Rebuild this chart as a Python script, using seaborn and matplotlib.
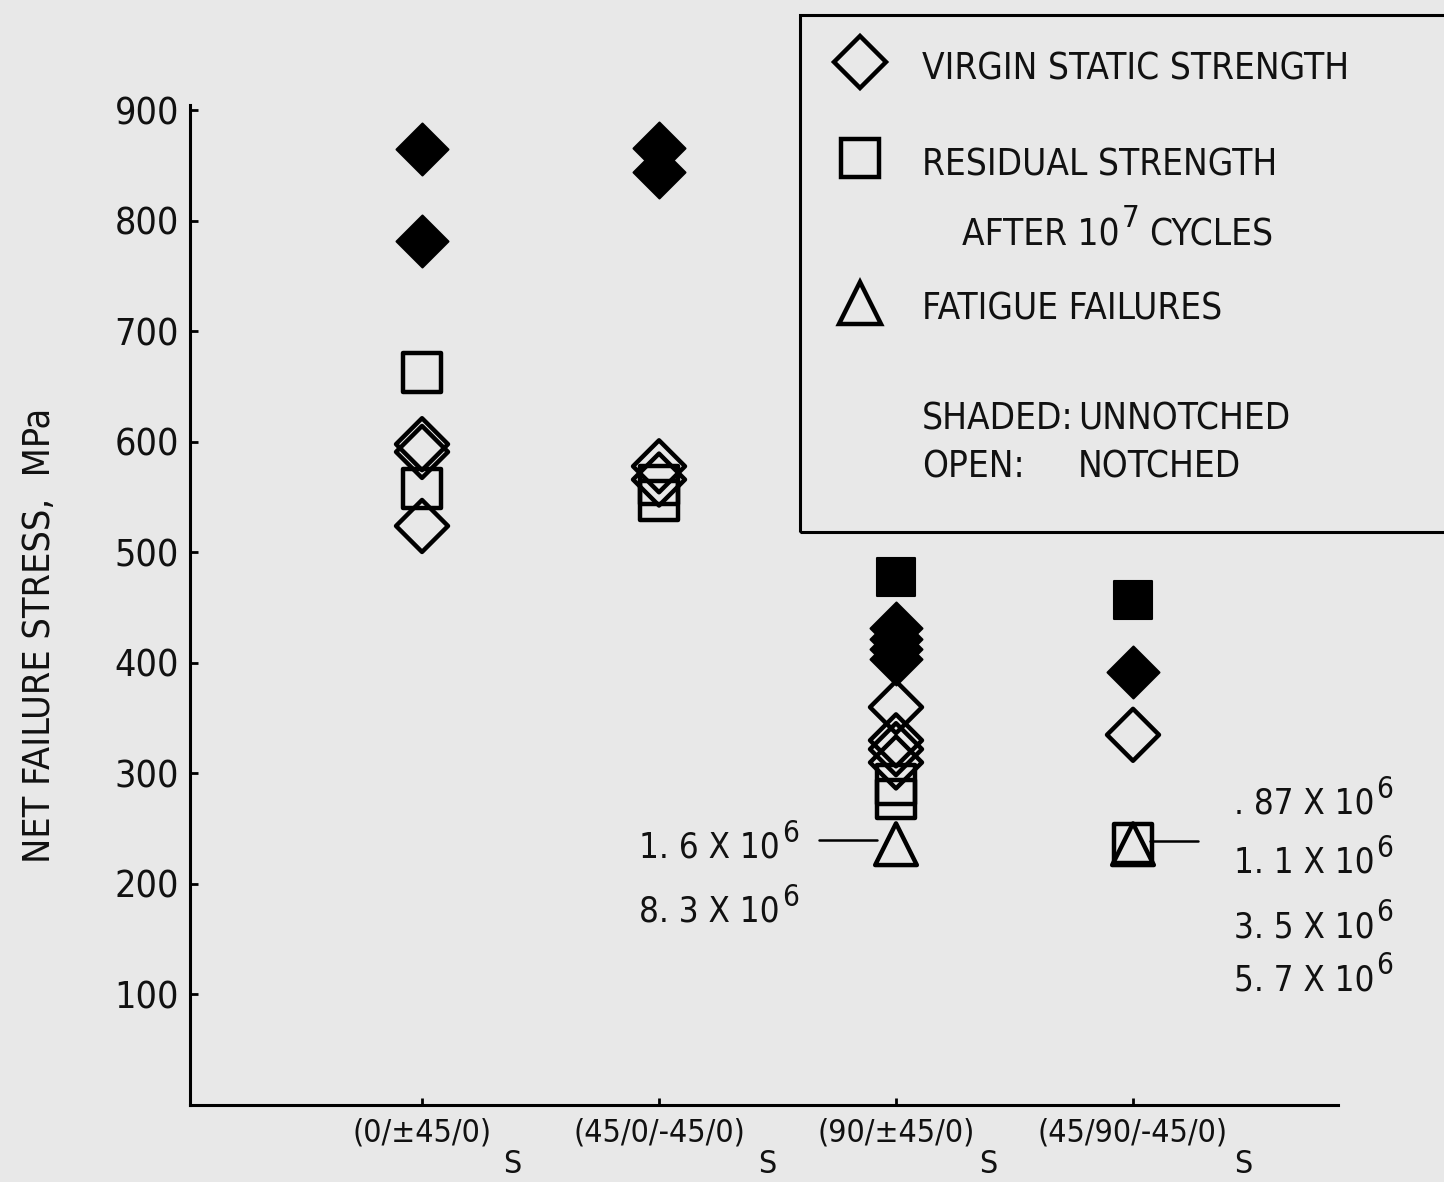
import numpy as np
import pandas as pd
import matplotlib
matplotlib.use("Agg")
import matplotlib.pyplot as plt
import seaborn as sns
from matplotlib import font_manager as fm
from matplotlib.patches import Rectangle
from matplotlib.lines import Line2D

# ---------------- data ----------------
categories = ["(0/±45/0)", "(45/0/-45/0)", "(90/±45/0)", "(45/90/-45/0)"]
subscript = "S"

virgin_unnotched = [[865, 782], [866, 844], [432, 422, 413, 404], [392]]
virgin_notched = [[598, 591, 524], [578, 566], [360, 330, 322, 310], [335]]
residual_unnotched = [[], [], [478], [457]]
residual_notched = [[663, 558], [561, 547], [290, 277], [237]]
fatigue_notched = [[], [], [236], [236]]

cycles_left = ["1. 6 X 10", "8. 3 X 10"]
cycles_right = [". 87 X 10", "1. 1 X 10", "3. 5 X 10", "5. 7 X 10"]
cycles_exp = "6"

y_ticks = [100, 200, 300, 400, 500, 600, 700, 800, 900]
y_label = "NET FAILURE STRESS,  MPa"

legend_lines = ["VIRGIN STATIC STRENGTH", "RESIDUAL STRENGTH",
                "FATIGUE FAILURES", "SHADED:", "UNNOTCHED", "OPEN:", "NOTCHED"]
legend_after = ("AFTER 10", "7", "CYCLES")

# ---------------- style ----------------
sns.set_theme(style="white")
names = {f.name for f in fm.fontManager.ttflist}
if "Liberation Sans Narrow" in names:
    FONT, STRETCH = "Liberation Sans Narrow", "normal"
else:
    FONT, STRETCH = "DejaVu Sans", "condensed"
BG = "#e8e8e8"
plt.rcParams["font.family"] = [FONT, "DejaVu Sans"]
plt.rcParams["font.stretch"] = STRETCH
plt.rcParams["text.color"] = "#111111"

rows = []
for kind, shade, arr in [("virgin", "unnotched", virgin_unnotched),
                         ("residual", "unnotched", residual_unnotched),
                         ("virgin", "notched", virgin_notched),
                         ("residual", "notched", residual_notched),
                         ("fatigue", "notched", fatigue_notched)]:
    for i, vals in enumerate(arr):
        for v in vals:
            rows.append(dict(pos=i, value=v, kind=kind, shade=shade))
df = pd.DataFrame(rows)

marker_map = {"virgin": "D", "residual": "s", "fatigue": "^"}
size_map = {"virgin": 700, "residual": 780, "fatigue": 900}

W, H = 1444, 1182
fig = plt.figure(figsize=(W / 100, H / 100), dpi=100, facecolor=BG)
ax = fig.add_axes([190 / W, 1 - 1105 / H, (1338 - 190) / W, (1105 - 15) / H])
ax.set_facecolor(BG)

for (kind, shade), sub in df.groupby(["kind", "shade"], sort=False):
    if shade == "unnotched":
        kw = dict(color="black", edgecolor="black", linewidth=1.5, zorder=3)
    else:
        kw = dict(facecolor="none", edgecolor="black", linewidth=3.2, zorder=4)
    sns.scatterplot(data=sub, x="pos", y="value", marker=marker_map[kind],
                    s=size_map[kind], ax=ax, legend=False, **kw)

ax.set_xlim(-0.979, 3.865)
ax.set_ylim(0, 986.4)
ax.set_xlabel("")
ax.set_ylabel("")
for s in ["top", "right"]:
    ax.spines[s].set_visible(False)
for s in ["left", "bottom"]:
    ax.spines[s].set_linewidth(2.2)
    ax.spines[s].set_color("black")
ax.spines["left"].set_bounds(0, 905)

ax.set_yticks(y_ticks)
ax.set_yticklabels([str(t) for t in y_ticks])
ax.set_xticks(range(len(categories)))
ax.set_xticklabels(categories)
ax.tick_params(axis="y", direction="in", length=6, width=2, labelsize=27, pad=8,
               left=True, colors="black", labelcolor="#111111")
ax.tick_params(axis="x", direction="in", length=5, width=2, labelsize=23, pad=9,
               bottom=True, colors="black", labelcolor="#111111")

# subscript S of the lay-up labels
s_dx = [0.38, 0.455, 0.39, 0.465]
for i, dx in enumerate(s_dx):
    ax.text(i + dx, -54, subscript, fontsize=23, ha="center", va="center", clip_on=False)


def with_exponent(x, y, base, exp, fs, transform, rest=None):
    t = ax.text(x, y, base, fontsize=fs, ha="left", va="baseline",
                transform=transform, clip_on=False)
    sup = ax.annotate(exp, xy=(1, 1), xycoords=t, xytext=(1.5, -2),
                      textcoords="offset points", fontsize=fs * 0.85,
                      ha="left", va="center", annotation_clip=False)
    if rest is not None:
        ax.annotate(rest, xy=(1, 0), xycoords=(sup, t), xytext=(7, 0),
                    textcoords="offset points", fontsize=fs,
                    ha="left", va="bottom", annotation_clip=False)
    return t


# leader lines + cycle annotations for fatigue failures
fat2 = fatigue_notched[2][0]
fat3 = fatigue_notched[3][0]
ax.plot([1.675, 1.92], [fat2 + 4, fat2 + 4], color="black", lw=1.8, zorder=2)
ax.plot([3.07, 3.274], [fat3 + 3, fat3 + 3], color="black", lw=1.8, zorder=2)
for txt, yv in zip(cycles_left, [224, 166]):
    with_exponent(0.916, yv, txt, cycles_exp, 25, ax.transData)
for txt, yv in zip(cycles_right, [264, 210, 152, 104]):
    with_exponent(3.425, yv, txt, cycles_exp, 25, ax.transData)

# y label
fig.text(40 / W, 1 - 635 / H, y_label, rotation=90, fontsize=27, ha="center", va="center")

# legend box
fig.add_artist(Rectangle((800 / W, 1 - 532 / H), (1470 - 800) / W, (532 - 15) / H,
                         transform=fig.transFigure, fill=False, lw=2.2, ec="black"))


def fx(x):
    return x / W


def fy(y):
    return 1 - y / H


for (mk, yy, sz) in [("D", 62, size_map["virgin"]), ("s", 158, size_map["residual"]),
                     ("^", 303, size_map["fatigue"])]:
    fig.add_artist(Line2D([fx(860)], [fy(yy)], marker=mk, markersize=np.sqrt(sz),
                          mfc="none", mec="black", mew=3.2, transform=fig.transFigure))
LFS = 26.5
leg_pos = [(922, 80), (922, 175), (922, 320), (922, 430), (1078, 430),
           (922, 478), (1078, 478)]
for txt, (x, y) in zip(legend_lines, leg_pos):
    fig.text(fx(x), fy(y), txt, fontsize=LFS, ha="left", va="baseline")
with_exponent(fx(962), fy(245), legend_after[0], legend_after[1], LFS,
              fig.transFigure, rest=legend_after[2])

fig.savefig("out.png", dpi=100, facecolor=BG)
